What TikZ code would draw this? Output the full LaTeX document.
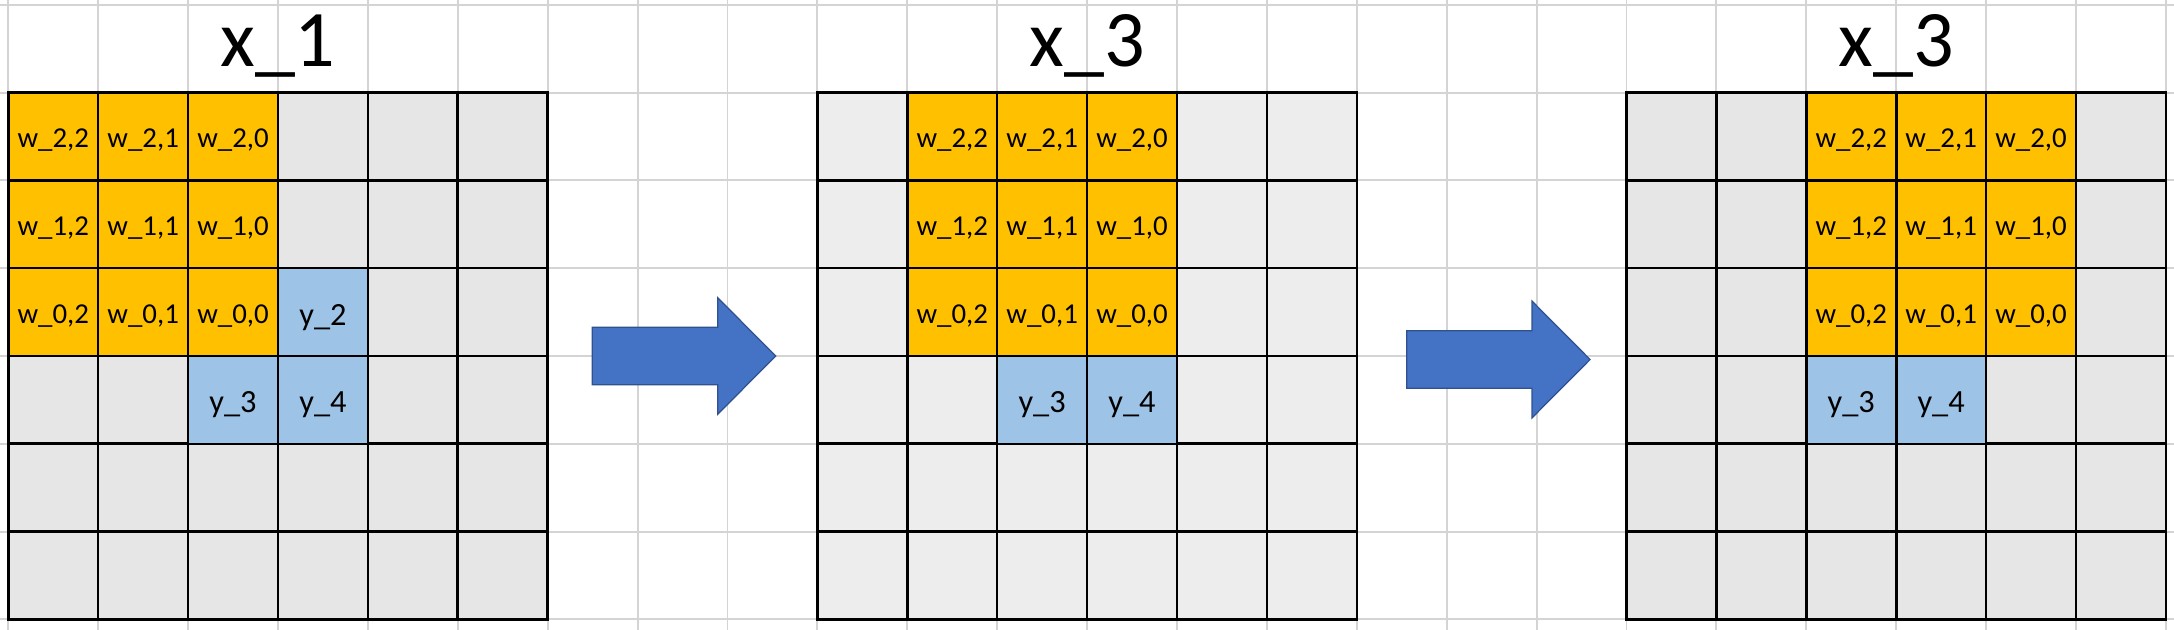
\documentclass[tikz,border=0pt]{standalone}
\usepackage{fontspec}
\setmainfont{Carlito}
\definecolor{orng}{HTML}{FFC000}
\definecolor{lblue}{HTML}{9DC3E6}
\definecolor{cgrayA}{HTML}{E6E6E6}
\definecolor{cgrayB}{HTML}{EDEDED}
\definecolor{sheet}{HTML}{D4D4D4}
\definecolor{arrfill}{HTML}{4472C4}
\definecolor{arredge}{HTML}{2F528F}
\begin{document}
\begin{tikzpicture}[x=0.01cm,y=-0.01cm,
  sheetline/.style={draw=sheet,line width=0.55pt},
  cell/.style={draw=black,line width=0.75pt,minimum width=0.899cm,minimum height=0.878cm,inner sep=0pt,outer sep=0pt,anchor=center},
  wcell/.style={cell,fill=orng,font=\fontsize{8.2}{9}\selectfont,text height=0.22cm,text depth=0cm},
  ycell/.style={cell,fill=lblue,font=\fontsize{9.2}{10}\selectfont,text height=0.26cm,text depth=0cm},
  gridtitle/.style={font=\fontsize{22.8}{26}\selectfont,anchor=base,inner sep=0pt},
  blockarrow/.style={fill=arrfill,draw=arredge,line width=0.35pt,line join=miter}]
\useasboundingbox[fill=white] (0,0) rectangle (2174,630);
% spreadsheet background lines
\foreach \k in {0,...,24} \draw[sheetline] ({8.3+\k*89.9},0) -- ({8.3+\k*89.9},630);
\foreach \j in {0,...,7} \draw[sheetline] (0,{4.8+\j*87.8}) -- (2174,{4.8+\j*87.8});
% base cells of the three grids
\foreach \g/\L/\gc in {1/0/cgrayA,2/9/cgrayB,3/18/cgrayA}{
  \foreach \r in {0,...,5}{
    \foreach \c in {0,...,5}{
      \node[cell,fill=\gc] (g\g-\r-\c) at ({8.3+(\L+\c+0.5)*89.9},{92.6+(\r+0.5)*87.8}) {};
    }
  }
  \node[gridtitle] (t\g) at ({8.3+(\L+3)*89.9},66.5) {};
}
\node[gridtitle] at (t1) {x\_1};
\node[gridtitle] at (t2) {x\_3};
\node[gridtitle] at (t3) {x\_3};
% grid 1
\node[wcell] (a22) at (g1-0-0) {w\_2,2};
\node[wcell] (a21) at (g1-0-1) {w\_2,1};
\node[wcell] (a20) at (g1-0-2) {w\_2,0};
\node[wcell] (a12) at (g1-1-0) {w\_1,2};
\node[wcell] (a11) at (g1-1-1) {w\_1,1};
\node[wcell] (a10) at (g1-1-2) {w\_1,0};
\node[wcell] (a02) at (g1-2-0) {w\_0,2};
\node[wcell] (a01) at (g1-2-1) {w\_0,1};
\node[wcell] (a00) at (g1-2-2) {w\_0,0};
\node[ycell] (ay2) at (g1-2-3) {y\_2};
\node[ycell] (ay3) at (g1-3-2) {y\_3};
\node[ycell] (ay4) at (g1-3-3) {y\_4};
% grid 2
\node[wcell] (b22) at (g2-0-1) {w\_2,2};
\node[wcell] (b21) at (g2-0-2) {w\_2,1};
\node[wcell] (b20) at (g2-0-3) {w\_2,0};
\node[wcell] (b12) at (g2-1-1) {w\_1,2};
\node[wcell] (b11) at (g2-1-2) {w\_1,1};
\node[wcell] (b10) at (g2-1-3) {w\_1,0};
\node[wcell] (b02) at (g2-2-1) {w\_0,2};
\node[wcell] (b01) at (g2-2-2) {w\_0,1};
\node[wcell] (b00) at (g2-2-3) {w\_0,0};
\node[ycell] (by3) at (g2-3-2) {y\_3};
\node[ycell] (by4) at (g2-3-3) {y\_4};
% grid 3
\node[wcell] (c22) at (g3-0-2) {w\_2,2};
\node[wcell] (c21) at (g3-0-3) {w\_2,1};
\node[wcell] (c20) at (g3-0-4) {w\_2,0};
\node[wcell] (c12) at (g3-1-2) {w\_1,2};
\node[wcell] (c11) at (g3-1-3) {w\_1,1};
\node[wcell] (c10) at (g3-1-4) {w\_1,0};
\node[wcell] (c02) at (g3-2-2) {w\_0,2};
\node[wcell] (c01) at (g3-2-3) {w\_0,1};
\node[wcell] (c00) at (g3-2-4) {w\_0,0};
\node[ycell] (cy3) at (g3-3-2) {y\_3};
\node[ycell] (cy4) at (g3-3-3) {y\_4};
% block arrows
\coordinate (arrA) at (592.3,356);
\coordinate (arrB) at (1406.7,359.5);
\foreach \p in {arrA,arrB}
  \draw[blockarrow,shift={(\p)}] (0,-28.7) -- (125.4,-28.7) -- (125.4,-58.3) -- (183.4,0) -- (125.4,58.3) -- (125.4,28.7) -- (0,28.7) -- cycle;
\end{tikzpicture}
\end{document}
